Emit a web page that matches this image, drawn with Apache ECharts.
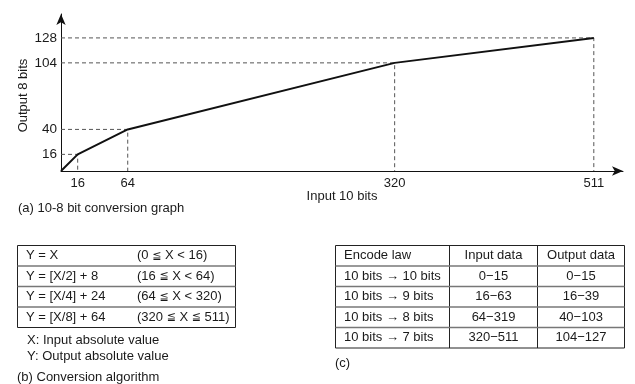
<!DOCTYPE html>
<html>
<head>
<meta charset="utf-8">
<script src="https://cdn.jsdelivr.net/npm/echarts@6/dist/echarts.min.js"></script>
<style>
html,body{margin:0;padding:0;background:#fff;}
#chart{width:635px;height:384px;}
</style>
</head>
<body>
<div id="chart"></div>
<script>
// ---- data ----
const inputBreaks = [0, 16, 64, 320, 511];
const outputBreaks = [0, 16, 40, 104, 128];
const xTickValues = [16, 64, 320, 511];
const yTickValues = [16, 40, 104, 128];
const xAxisName = 'Input 10 bits';
const yAxisName = 'Output 8 bits';
const captionA = '(a) 10-8 bit conversion graph';

const formulas = ['Y = X', 'Y = [X/2] + 8', 'Y = [X/4] + 24', 'Y = [X/8] + 64'];
const ranges = ['(0 \u2266 X < 16)', '(16 \u2266 X < 64)', '(64 \u2266 X < 320)', '(320 \u2266 X \u2266 511)'];
const notes = ['X: Input absolute value', 'Y: Output absolute value'];
const captionB = '(b) Conversion algorithm';

const headerC = ['Encode law', 'Input data', 'Output data'];
const encodeLaw = ['10 bits \u2192 10 bits', '10 bits \u2192 9 bits', '10 bits \u2192 8 bits', '10 bits \u2192 7 bits'];
const inputData = ['0\u221215', '16\u221263', '64\u2212319', '320\u2212511'];
const outputData = ['0\u221215', '16\u221239', '40\u2212103', '104\u2212127'];
const captionC = '(c)';

// ---- chart ----
const FONT = '"Liberation Sans", Arial, "DejaVu Sans", sans-serif';
const TXT = '#1a1a1a';
const FS = 13;
const chart = echarts.init(document.getElementById('chart'), null, {renderer: 'canvas'});

const mainData = inputBreaks.map((x, i) => [x, outputBreaks[i]]);
const guideSeries = [];
for (let i = 1; i < inputBreaks.length; i++) {
  guideSeries.push({
    type: 'line',
    data: [[0, outputBreaks[i]], [inputBreaks[i], outputBreaks[i]], [inputBreaks[i], 0]],
    symbol: 'none',
    silent: true,
    z: 1,
    lineStyle: {color: '#555', width: 1, type: [4, 3]}
  });
}

// tables as graphic
const g = [];
function txt(t, x, y, align) {
  g.push({type: 'text', silent: true, style: {text: t, x: x, y: y, font: FS + 'px ' + FONT, fill: TXT, textAlign: align || 'left', textVerticalAlign: 'middle'}});
}
function richTxt(t, x, y) {
  const s = t.split('\u2266').join('{le|\u2266}');
  g.push({type: 'text', silent: true, style: {
    text: s, x: x, y: y, fontSize: FS, fontFamily: FONT, fill: TXT, textAlign: 'left', textVerticalAlign: 'middle',
    rich: {le: {fontSize: 11, fontFamily: FONT, fill: TXT}}
  }});
}
function line(x1, y1, x2, y2, c, w) {
  g.push({type: 'line', silent: true, shape: {x1: x1, y1: y1, x2: x2, y2: y2}, style: {stroke: c || '#222', lineWidth: w || 1}});
}
function rect(x, y, w, h) {
  g.push({type: 'rect', silent: true, shape: {x: x, y: y, width: w, height: h}, style: {fill: 'none', stroke: '#222', lineWidth: 1}});
}

txt(captionA, 18, 208);

// table b
const bX = 17.5, bY = 245.5, bW = 218, rowH = 20.5;
rect(bX, bY, bW, rowH * formulas.length);
for (let i = 0; i < formulas.length; i++) {
  if (i > 0) line(bX, bY + rowH * i, bX + bW, bY + rowH * i, '#777', 1.5);
  txt(formulas[i], 26, bY + rowH * i + rowH / 2);
  richTxt(ranges[i], 137, bY + rowH * i + rowH / 2);
}
txt(notes[0], 27, 340);
txt(notes[1], 27, 356);
txt(captionB, 17, 377);

// table c
const cX = 335.5, cY = 245.5, cW = 289, cols = [335.5, 449.5, 537.5, 624.5];
const nRows = encodeLaw.length + 1;
rect(cX, cY, cW, rowH * nRows);
line(cols[1], cY, cols[1], cY + rowH * nRows);
line(cols[2], cY, cols[2], cY + rowH * nRows);
const rowsC = [headerC].concat(encodeLaw.map((e, i) => [e, inputData[i], outputData[i]]));
rowsC.forEach((r, i) => {
  const yc = cY + rowH * i + rowH / 2;
  if (i > 0) line(cX, cY + rowH * i, cX + cW, cY + rowH * i, '#777', 1.5);
  txt(r[0], 344, yc);
  txt(r[1], (cols[1] + cols[2]) / 2, yc, 'center');
  txt(r[2], (cols[2] + cols[3]) / 2, yc, 'center');
});
txt(captionC, 335, 363);

chart.setOption({
  animation: false,
  backgroundColor: '#fff',
  grid: {left: 61, top: 14, width: 562, height: 157, containLabel: false},
  xAxis: {
    type: 'value', min: 0, max: 539,
    name: xAxisName, nameLocation: 'middle', nameGap: 19, nameMoveOverlap: false,
    nameTextStyle: {color: TXT, fontSize: FS, fontFamily: FONT, verticalAlign: 'top', padding: [0, 0, 0, 0]},
    axisLine: {show: true, symbol: ['none', 'arrow'], symbolSize: [7, 11], lineStyle: {color: '#111', width: 1}},
    axisTick: {show: false},
    splitLine: {show: false},
    axisLabel: {customValues: xTickValues, color: TXT, fontSize: FS, fontFamily: FONT, margin: 6}
  },
  yAxis: {
    type: 'value', min: 0, max: 151,
    name: yAxisName, nameLocation: 'middle', nameGap: 31, nameRotate: 90, nameMoveOverlap: false,
    nameTextStyle: {color: TXT, fontSize: FS, fontFamily: FONT, padding: [0, 6, 0, 0]},
    axisLine: {show: true, symbol: ['none', 'arrow'], symbolSize: [7, 11], lineStyle: {color: '#111', width: 1}},
    axisTick: {show: false},
    splitLine: {show: false},
    axisLabel: {customValues: yTickValues, color: TXT, fontSize: FS + 0.5, fontFamily: FONT, margin: 4}
  },
  series: guideSeries.concat([{
    type: 'line',
    data: mainData,
    symbol: 'none',
    z: 5,
    lineStyle: {color: '#111', width: 2}
  }]),
  graphic: {elements: g}
});
</script>
</body>
</html>
